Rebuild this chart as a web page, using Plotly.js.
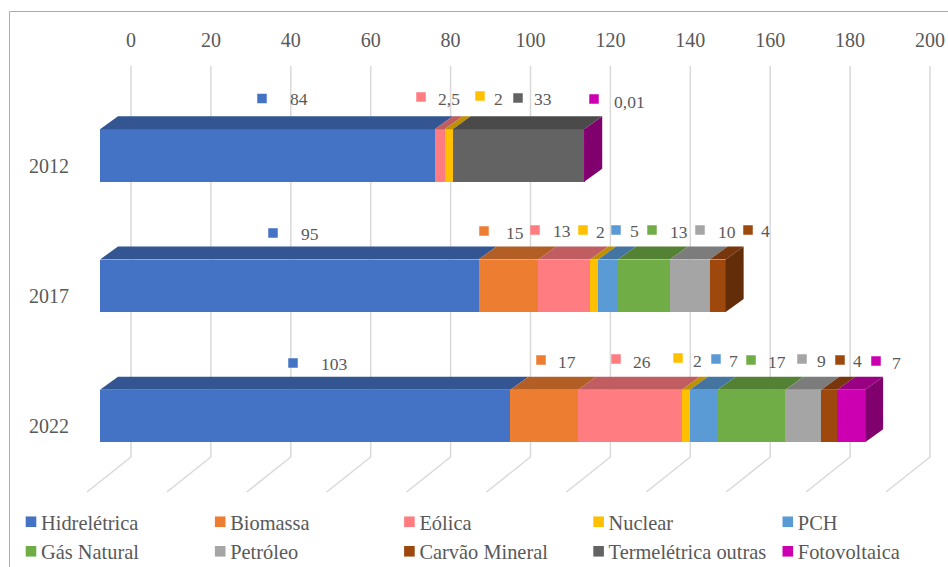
<!DOCTYPE html>
<html>
<head>
<meta charset="utf-8">
<script src="https://cdn.plot.ly/plotly-3.0.1.min.js"></script>
<style>html,body{margin:0;padding:0;background:#fff}#chart{width:948px;height:567px}</style>
</head>
<body>
<div id="chart"></div>
<script>
// Installed capacity by source (GW), one array per source, ordered as the years below.
const years = ['2012', '2017', '2022'];
const sources = ['Hidrelétrica', 'Biomassa', 'Eólica', 'Nuclear', 'PCH', 'Gás Natural', 'Petróleo', 'Carvão Mineral', 'Termelétrica outras', 'Fotovoltaica'];
const hidreletrica = [84, 95, 103];
const biomassa = [0, 15, 17];
const eolica = [2.5, 13, 26];
const nuclear = [2, 2, 2];
const pch = [0, 5, 7];
const gasNatural = [0, 13, 17];
const petroleo = [0, 10, 9];
const carvao = [0, 4, 4];
const termeletricaOutras = [33, 0, 0];
const fotovoltaica = [0.01, 0, 7];
const seriesValues = [hidreletrica, biomassa, eolica, nuclear, pch, gasNatural, petroleo, carvao, termeletricaOutras, fotovoltaica];
const colors = ['#4472C4', '#ED7D31', '#FF7C80', '#FFC000', '#5B9BD5', '#70AD47', '#A5A5A5', '#9E480E', '#636363', '#CC00B0'];
const tickValues = [0, 20, 40, 60, 80, 100, 120, 140, 160, 180, 200];

// Screen geometry of the pseudo-3D scene.
const W = 948, H = 567;
const plot = {l: 0, r: 948, t: 52, b: 500};
const backZero = 131, backScale = 3.995;     // rear wall: value 0 and px per unit
const frontZero = 100, frontScale = 3.985;   // front faces of the bars
const rowBack = 165.5, rowFront = 155.5, rowStep = 130.25;
const barHeight = 52.5;
const depthX = 18, depthY = 13;              // extrusion of each bar
const wallTop = 66, wallBottom = 457, floorX = 44, floorY = 35;

const pxToBackX = px => (px - backZero) / backScale;
const pxToBackY = py => (py - rowBack) / rowStep;
const dxFront = depthX / frontScale;
const dyFront = depthY / rowStep;
const halfBar = barHeight / rowStep / 2;

function shade(hex, f) {
  const n = parseInt(hex.slice(1), 16);
  const c = [n >> 16, (n >> 8) & 255, n & 255].map(v => Math.round(v * f));
  return `rgb(${c[0]},${c[1]},${c[2]})`;
}

const traces = [];

// Wall and floor grid lines, one polyline per tick of the value axis.
const gridX = [], gridY = [];
tickValues.forEach(v => {
  gridX.push(v, v, v - floorX / backScale, null);
  gridY.push(pxToBackY(wallTop), pxToBackY(wallBottom), pxToBackY(wallBottom + floorY), null);
});
traces.push({
  type: 'scatter', mode: 'lines', x: gridX, y: gridY, xaxis: 'x', yaxis: 'y',
  line: {color: '#D9D9D9', width: 1.5, simplify: false}, showlegend: false, hoverinfo: 'skip'
});

// Front faces: stacked bars.
sources.forEach((name, s) => {
  traces.push({
    type: 'bar', orientation: 'h', name, xaxis: 'x2', yaxis: 'y2',
    y: years.map((_, i) => i), x: seriesValues[s], width: barHeight / rowStep,
    marker: {color: colors[s], line: {width: 0}}, hoverinfo: 'x+name'
  });
});

// Top faces for every segment, plus the end cap of each stack.
const totals = years.map((_, i) => seriesValues.reduce((a, vals) => a + vals[i], 0));
sources.forEach((name, s) => {
  const tx = [], ty = [], sx = [], sy = [];
  years.forEach((_, i) => {
    const v = seriesValues[s][i];
    if (!v) return;
    const start = seriesValues.slice(0, s).reduce((a, vals) => a + vals[i], 0);
    const end = start + v;
    const top = i - halfBar, bottom = i + halfBar;
    tx.push(start, end, end + dxFront, start + dxFront, start, null);
    ty.push(top, top, top - dyFront, top - dyFront, top, null);
    if (Math.abs(end - totals[i]) < 1e-9) {
      sx.push(end, end + dxFront, end + dxFront, end, end, null);
      sy.push(top, top - dyFront, bottom - dyFront, bottom, top, null);
    }
  });
  const face = (x, y, color) => ({
    type: 'scatter', mode: 'lines', x, y, xaxis: 'x2', yaxis: 'y2', fill: 'toself',
    fillcolor: color, line: {width: 0, color}, showlegend: false, hoverinfo: 'skip'
  });
  traces.push(face(tx, ty, shade(colors[s], 0.75)));
  if (sx.length) traces.push(face(sx, sy, shade(colors[s], 0.625)));
});

// Floating data labels: source index, key square position, text position (px).
const labelSource = [0, 2, 3, 8, 9,  0, 1, 2, 3, 4, 5, 6, 7,  0, 1, 2, 3, 4, 5, 6, 7, 9];
const labelYear   = [0, 0, 0, 0, 0,  1, 1, 1, 1, 1, 1, 1, 1,  2, 2, 2, 2, 2, 2, 2, 2, 2];
const keyPx  = [262, 421, 480, 518, 594,  273, 484, 535, 583, 616, 652, 700, 748,  293, 541, 616, 678, 716, 751, 802, 840, 876];
const keyPy  = [98.5, 97, 96, 98, 99,  233, 231, 230, 230, 230, 230, 230, 230,  363, 360, 359, 358, 359, 360, 359, 360, 361];
const textPx = [289, 437, 493, 533, 613,  300, 505, 552, 595, 629, 669, 717, 760,  320, 557, 632, 692, 728, 767, 816, 852, 891];
const textPy = [99, 99, 99, 99, 102,  234, 233, 231, 232, 231, 232, 232, 231,  364, 362, 362, 361, 361, 362, 361, 361, 363];

traces.push({
  type: 'scatter', mode: 'markers', xaxis: 'x', yaxis: 'y',
  x: keyPx.map(pxToBackX), y: keyPy.map(pxToBackY),
  marker: {symbol: 'square', size: 9.5, color: labelSource.map(s => colors[s]), line: {width: 0}},
  showlegend: false, hoverinfo: 'skip'
});

const annotations = labelSource.map((s, k) => ({
  xref: 'x', yref: 'y', x: pxToBackX(textPx[k]), y: pxToBackY(textPy[k]),
  xanchor: 'left', yanchor: 'middle', showarrow: false, borderpad: 0,
  text: String(seriesValues[s][labelYear[k]]).replace('.', ','),
  font: {family: '"Liberation Serif", serif', size: 17.5, color: '#595959'}
}));

const toPaperX = px => (px - plot.l) / (plot.r - plot.l);
const toPaperY = py => 1 - (py - plot.t) / (plot.b - plot.t);

const axisFont = {family: '"Liberation Serif", serif', size: 20, color: '#595959'};
const layout = {
  width: W, height: H,
  paper_bgcolor: '#fff', plot_bgcolor: 'rgba(0,0,0,0)',
  barmode: 'stack', bargap: 0,
  margin: {l: plot.l, r: W - plot.r, t: plot.t, b: H - plot.b, pad: 0, autoexpand: false},
  xaxis: {
    side: 'top', range: [pxToBackX(plot.l), pxToBackX(plot.r)], tickmode: 'array', tickvals: tickValues,
    ticks: '', showgrid: false, zeroline: false, showline: false, tickfont: axisFont
  },
  xaxis2: {
    overlaying: 'x', side: 'top', visible: false,
    range: [(plot.l - frontZero) / frontScale, (plot.r - frontZero) / frontScale]
  },
  yaxis: {
    range: [pxToBackY(plot.b), pxToBackY(plot.t)], tickmode: 'array', tickvals: years.map((_, i) => i), ticktext: years,
    ticks: '', showgrid: false, zeroline: false, showline: false, tickfont: axisFont,
    ticklabelposition: 'inside', ticklabelstandoff: 26
  },
  yaxis2: {
    overlaying: 'y', visible: false,
    range: [(plot.b - rowFront) / rowStep, (plot.t - rowFront) / rowStep]
  },
  legend: {
    orientation: 'h', xref: 'paper', yref: 'paper', x: 0, y: toPaperY(502),
    xanchor: 'left', yanchor: 'top', entrywidth: 154.2, entrywidthmode: 'pixels', indentation: -10,
    traceorder: 'normal', font: {family: '"Liberation Serif", serif', size: 20.4, color: '#595959'},
    bgcolor: 'rgba(0,0,0,0)'
  },
  shapes: [{
    type: 'path', xref: 'paper', yref: 'paper', layer: 'below',
    path: `M ${toPaperX(9.5)} ${toPaperY(567)} L ${toPaperX(9.5)} ${toPaperY(11.5)} L ${toPaperX(948)} ${toPaperY(11.5)}`,
    line: {color: '#ADADAD', width: 1}
  }],
  annotations,
  hovermode: 'closest', showlegend: true
};

// Seat the five-column legend and tighten its keys against their labels.
const legendLeft = 11;
function tightenLegend() {
  const box = document.querySelector('#chart .legend');
  if (box) {
    const t = box.getAttribute('transform') || '';
    box.setAttribute('transform', t.replace(/translate\(\s*[-\d.]+/, 'translate(' + legendLeft));
  }
  document.querySelectorAll('#chart .legend .traces .layers').forEach(g => g.setAttribute('transform', 'translate(0,0)'));
  document.querySelectorAll('#chart .legend .legendpoints path').forEach(p => p.setAttribute('d', 'M5.3,5.3H-5.3V-5.3H5.3Z'));
}

Plotly.newPlot('chart', traces, layout, {displayModeBar: false, responsive: false}).then(gd => {
  tightenLegend();
  gd.on('plotly_afterplot', tightenLegend);
});
</script>
</body>
</html>
